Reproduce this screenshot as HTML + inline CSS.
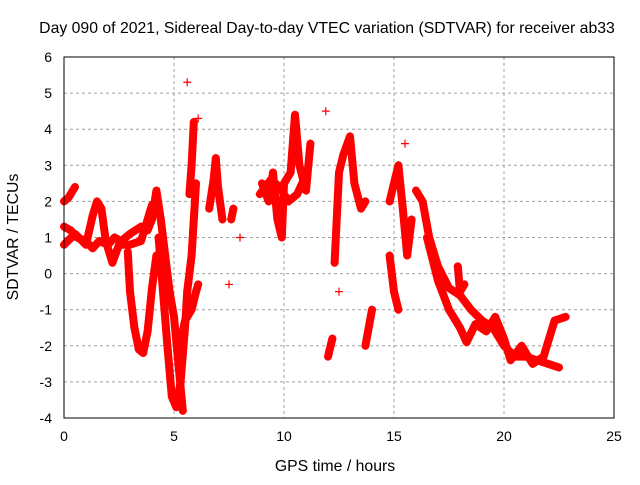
<!DOCTYPE html>
<html><head><meta charset="utf-8"><style>
body{margin:0;background:#fff}
svg text{font-family:"Liberation Sans",sans-serif;font-size:14px;fill:#000}
svg text.t{font-size:15.8px}
</style></head><body>
<svg id="chart" width="640" height="480" xmlns="http://www.w3.org/2000/svg">
<text class="t" x="327" y="33" text-anchor="middle">Day 090 of 2021, Sidereal Day-to-day VTEC variation (SDTVAR) for receiver ab33</text>
<text class="t" x="335" y="471" text-anchor="middle">GPS time / hours</text>
<text class="t" transform="translate(18,237) rotate(-90)" text-anchor="middle">SDTVAR / TECUs</text>
<g id="grid"></g><g id="marks"></g>
<rect x="64" y="57" width="550" height="361" fill="none" stroke="#000" stroke-width="1"/>
</svg>
<script>
const xTicks=[0,5,10,15,20,25];
const yTicks=[-4,-3,-2,-1,0,1,2,3,4,5,6];
const seriesA=[[0,1.3],[0.3,1.2],[0.6,1.0],[1.0,0.9],[1.3,0.7],[1.6,0.9],[2.0,0.8],[2.3,1.0],[2.6,0.9],[3.0,1.1],[3.5,1.3],[3.8,1.2],[4.0,1.5],[4.2,2.3],[4.4,1.5],[4.6,0.5],[4.8,-0.5],[5.0,-1.2],[5.2,-2.5],[5.4,-3.8]];
const seriesB=[[0,0.8],[0.5,1.1],[1.0,0.8],[1.3,1.6],[1.5,2.0],[1.7,1.8],[1.9,0.9],[2.2,0.3],[2.5,0.8],[3.0,0.8],[3.5,0.9],[3.8,1.5],[4.0,1.9]];
const seriesEarly=[[0,2.0],[0.2,2.1],[0.5,2.4]];
const seriesC=[[2.9,0.6],[3.0,-0.5],[3.2,-1.5],[3.4,-2.1],[3.6,-2.2],[3.8,-1.6],[4.0,-0.4],[4.2,0.5]];
const seriesD=[[4.3,1.0],[4.5,-0.5],[4.7,-2],[4.9,-3.4],[5.1,-3.7],[5.3,-3.0],[5.5,-1.5],[5.6,-0.5],[5.8,0.5],[5.9,1.5],[6.0,2.5]];
const seriesE=[[5.2,-2.2],[5.5,-1.3],[5.8,-1.0],[6.0,-0.5],[6.1,-0.3]];
const seriesF=[[5.7,2.2],[5.8,3.0],[5.9,4.2]];
const seriesG=[[6.6,1.8],[6.8,2.6],[6.9,3.2],[7.0,2.4],[7.2,1.5]];
const seriesH=[[7.6,1.5],[7.7,1.8]];
const seriesI=[[9.0,2.5],[9.3,2.0],[9.5,2.8],[9.7,1.5],[9.9,1.0],[10.0,2.5],[10.3,2.8],[10.5,4.4],[10.7,3.0],[11.0,2.3],[11.2,3.6]];
const seriesI2=[[8.9,2.2],[9.4,2.6],[9.8,2.4],[10.2,2.0],[10.6,2.2],[10.9,2.6]];
const seriesJ=[[12.0,-2.3],[12.2,-1.8]];
const seriesK=[[12.3,0.3],[12.5,2.8],[12.7,3.3],[13.0,3.8],[13.2,2.5],[13.5,1.8],[13.7,2.0]];
const seriesL=[[13.7,-2.0],[14.0,-1.0]];
const seriesM=[[14.8,2.0],[15.0,2.5],[15.2,3.0],[15.4,1.8],[15.6,0.5],[15.8,1.5]];
const seriesN=[[14.8,0.5],[15.0,-0.5],[15.2,-1.0]];
const seriesMain=[[16.0,2.3],[16.3,2.0],[16.6,1.0],[17.0,0.2],[17.5,-0.4],[18.0,-0.6],[18.5,-1.0],[19.0,-1.3],[19.5,-1.5],[20.0,-2.0],[20.5,-2.3],[21.0,-2.3],[21.5,-2.4],[22.0,-2.5],[22.5,-2.6]];
const seriesLow=[[16.5,1.0],[17.0,-0.2],[17.5,-1.0],[18.0,-1.5],[18.3,-1.9],[18.7,-1.4],[19.2,-1.6],[19.6,-1.2],[20.0,-1.8],[20.3,-2.4],[20.8,-2.0],[21.3,-2.5],[21.8,-2.3],[22.0,-1.9],[22.3,-1.3],[22.8,-1.2]];
const seriesBump=[[17.9,0.2],[18.0,-0.5],[18.2,-0.3]];
const outliers=[[5.6,5.3],[6.1,4.3],[11.9,4.5],[7.5,-0.3],[8.0,1.0],[12.5,-0.5],[15.5,3.6]];
const allSeries=[seriesA,seriesB,seriesEarly,seriesC,seriesD,seriesE,seriesF,seriesG,seriesH,seriesI,seriesI2,seriesJ,seriesK,seriesL,seriesM,seriesN,seriesMain,seriesLow,seriesBump];

const NS="http://www.w3.org/2000/svg";
const X0=64,X1=614,Y0=418,Y1=57;
function sx(v){return X0+(v-0)/(25-0)*(X1-X0);}
function sy(v){return Y0-(v+4)/(10)*(Y0-Y1);}
function mk(tag,attrs,parent){const e=document.createElementNS(NS,tag);for(const k in attrs)e.setAttribute(k,attrs[k]);parent.appendChild(e);return e;}
const grid=document.getElementById('grid'),marks=document.getElementById('marks');
xTicks.forEach(t=>{
  const x=sx(t);
  if(t>0&&t<25){const g=mk('line',{x1:x,x2:x,y1:Y1,y2:Y0,stroke:'#a0a0a0','stroke-dasharray':'3,3'},grid);
  
  }
  const l=mk('text',{x:x,y:441,'text-anchor':'middle'},grid);l.textContent=t;
  
  
});
yTicks.forEach(t=>{
  const y=sy(t);
  if(t>-4&&t<6){const g=mk('line',{x1:X0,x2:X1,y1:y,y2:y,stroke:'#a0a0a0','stroke-dasharray':'3,3'},grid);
  
  }
  const l=mk('text',{x:52,y:y+5,'text-anchor':'end'},grid);l.textContent=t;
  
  
});
function plus(p,parent){
  const x=sx(p[0]),y=sy(p[1]);
  const e=mk('path',{d:`M${x-4},${y}h8M${x},${y-4}v8`,stroke:'#f00','stroke-width':1.2},parent);
  
  
}
allSeries.forEach(s=>{
  const pl=mk('polyline',{points:s.map(p=>sx(p[0])+','+sy(p[1])).join(' '),fill:'none',stroke:'#f00','stroke-width':8,'stroke-linejoin':'round','stroke-linecap':'round'},marks);
  
  
  s.forEach(p=>plus(p,marks));
});
outliers.forEach(p=>plus(p,marks));
</script>
</body></html>
